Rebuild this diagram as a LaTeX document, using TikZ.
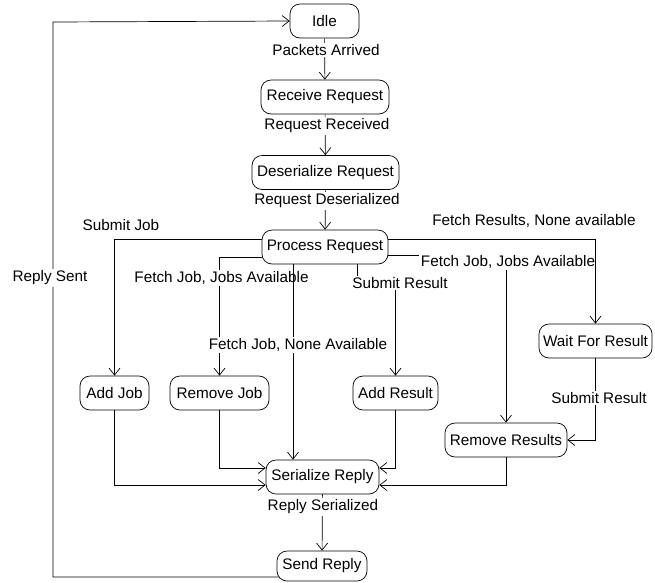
\documentclass[tikz,border=0pt]{standalone}
\usepackage{fontspec}
\setmainfont{Liberation Sans}
\usetikzlibrary{arrows.meta}
\begin{document}
\begin{tikzpicture}[x={(1pt,0)}, y={(0,-1pt)},
  font=\fontsize{15.3}{18}\selectfont,
  state/.style={draw, rounded corners=10pt, minimum height=34pt, inner sep=0pt, fill=white, line width=0.7pt},
  lbl/.style={fill=white, inner sep=1.5pt},
  arr/.style={draw, line width=0.7pt, -{Straight Barb[length=7pt,width=11pt]}},
  con/.style={draw, line width=0.7pt}]
\useasboundingbox (0,0) rectangle (655,582);
% states
\node[state, minimum width=69pt]  (Idle)    at (324.5,21)  {Idle};
\node[state, minimum width=128pt] (Recv)    at (325,97)    {Receive Request};
\node[state, minimum width=147pt] (Deser)   at (325.5,172.5) {Deserialize Request};
\node[state, minimum width=126pt] (Proc)    at (325,247)   {Process Request};
\node[state, minimum width=69pt]  (AddJob)  at (114.5,393) {Add Job};
\node[state, minimum width=99pt]  (RemJob)  at (219.5,393) {Remove Job};
\node[state, minimum width=85pt]  (AddRes)  at (395.5,393) {Add Result};
\node[state, minimum width=113pt] (Wait)    at (595.5,341) {Wait For Result};
\node[state, minimum width=122pt] (RemRes)  at (506,440)   {Remove Results};
\node[state, minimum width=113pt] (Ser)     at (322.5,477) {Serialize Reply};
\node[state, minimum width=90pt, minimum height=30pt] (Send) at (322,566) {Send Reply};
% helper coordinates
\coordinate (lc) at (53,22);
\coordinate (nax) at (293,0);
\coordinate (sr) at (357,283);
% main chain
\draw[arr] (Idle) -- (Recv);
\node[lbl] (lPA) at (326,50) {Packets Arrived};
\draw[arr] (Recv) -- (Deser);
\node[lbl] (lRR) at (327,126) {Request Received};
\draw[arr] (Deser) -- (Proc);
\node[lbl] (lRD) at (327,201) {Request Deserialized};
% branches from Process Request
\draw[arr] ([yshift=8pt]Proc.west) -| (AddJob.north);
\node[lbl] (lSJ) at (121,225) {Submit Job};
\draw[arr] ([yshift=-10pt]Proc.west) -| (RemJob.north);
\node[lbl] (lFJA) at (221.5,278) {Fetch Job, Jobs Available};
\draw[arr] (Proc.south -| nax) -- (Ser.north -| nax);
\node[lbl] (lFJN) at (298,345) {Fetch Job, None Available};
\draw[arr] (Proc.south -| sr) -- (sr) -| (AddRes.north);
\node[lbl] (lSR) at (400,283) {Submit Result};
\draw[arr] ([yshift=-8pt]Proc.east) -| (RemRes.north);
\node[lbl] (lFJA2) at (508,262) {Fetch Job, Jobs Available};
\draw[arr] ([yshift=8pt]Proc.east) -| (Wait.north);
\node[lbl] (lFRN) at (534,221) {Fetch Results, None available};
\draw[arr] (Wait.south) |- (RemRes.east);
\node[lbl] (lSR2) at (599,398) {Submit Result};
% into Serialize Reply
\draw[arr] (AddJob.south) |- ([yshift=-8pt]Ser.west);
\draw[arr] (RemJob.south) |- ([yshift=9pt]Ser.west);
\draw[arr] (AddRes.south) |- ([yshift=9pt]Ser.east);
\draw[arr] (RemRes.south) |- ([yshift=-8pt]Ser.east);
\draw[arr] (Ser) -- (Send);
\node[lbl] (lRS) at (323,507) {Reply Serialized};
% loop back
\draw[arr] ([yshift=-11pt,xshift=2pt]Send.west) -| (lc) -- (Idle.west);
\node[lbl] (lSent) at (50,278) {Reply Sent};
\end{tikzpicture}
\end{document}
